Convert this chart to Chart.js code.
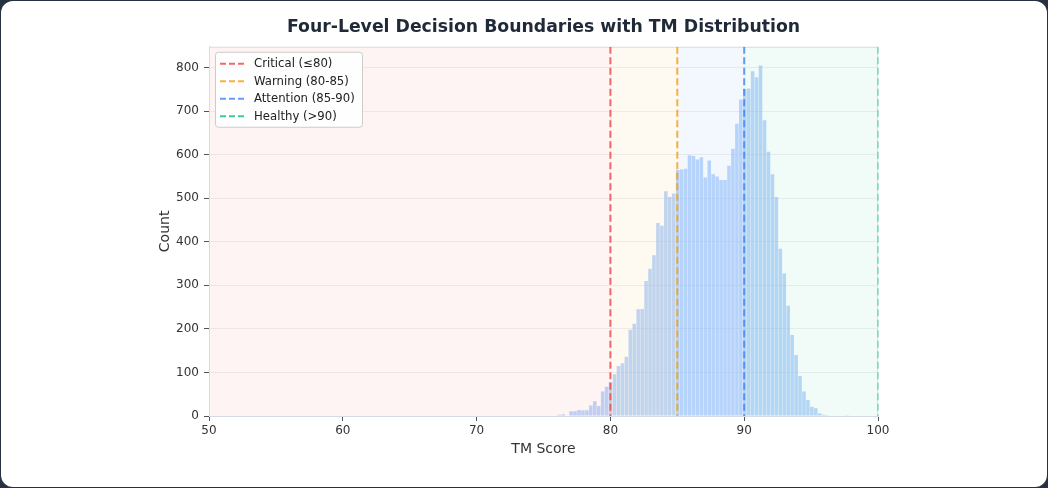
<!DOCTYPE html>
<html>
<head>
<meta charset="utf-8">
<script src="https://cdn.jsdelivr.net/npm/chart.js@4.4.1/dist/chart.umd.min.js"></script>
<style>
  html, body { margin: 0; padding: 0; background: #263142; }
  #c { display: block; }
</style>
</head>
<body>
<canvas id="c" width="1048" height="488"></canvas>
<script>
// ---- data ----
const titleText = 'Four-Level Decision Boundaries with TM Distribution';
const xTitle = 'TM Score';
const yTitle = 'Count';
const binCenters = [
  76.178, 76.473, 76.768, 77.063, 77.358, 77.653, 77.948, 78.243, 78.538, 78.833,
  79.128, 79.423, 79.718, 80.013, 80.308, 80.603, 80.898, 81.193, 81.488, 81.783,
  82.078, 82.373, 82.668, 82.963, 83.258, 83.553, 83.848, 84.143, 84.438, 84.733,
  85.028, 85.323, 85.618, 85.913, 86.208, 86.503, 86.798, 87.093, 87.388, 87.683,
  87.978, 88.273, 88.568, 88.863, 89.158, 89.453, 89.748, 90.043, 90.338, 90.633,
  90.928, 91.223, 91.518, 91.813, 92.108, 92.403, 92.698, 92.993, 93.288, 93.583,
  93.878, 94.173, 94.468, 94.763, 95.058, 95.353, 95.648, 95.943, 96.238, 96.533,
  96.828, 97.123, 97.418, 97.713, 98.008
];
const counts = [
  3, 4, 0, 11, 11, 14, 13, 13, 24, 34,
  23, 56, 67, 78, 96, 115, 121, 136, 198, 212,
  245, 246, 310, 338, 369, 443, 437, 516, 503, 511,
  565, 566, 568, 599, 597, 589, 594, 548, 587, 555,
  550, 542, 542, 575, 614, 671, 727, 751, 752, 792,
  778, 805, 679, 607, 555, 503, 384, 327, 253, 186,
  140, 92, 56, 37, 21, 18, 6, 3, 2, 1,
  0, 0, 0, 2, 1
];
const boundaries = [80, 85, 90, 100];
const boundaryLabels = ['Critical (≤80)', 'Warning (80-85)', 'Attention (85-90)', 'Healthy (>90)'];
const boundaryColors = ['rgba(239,68,68,0.8)', 'rgba(245,158,11,0.8)', 'rgba(59,130,246,0.8)', 'rgba(16,185,129,0.8)'];
const zoneEdges = [50, 80, 85, 90, 100];
const zoneColors = ['rgba(239,68,68,0.06)', 'rgba(245,158,11,0.06)', 'rgba(59,130,246,0.06)', 'rgba(16,185,129,0.06)'];
const xRange = [50, 100];
const yRange = [0, 848];
const xStep = 10;
const yStep = 100;

Chart.defaults.font.family = "'DejaVu Sans', sans-serif";

const bgPlugin = {
  id: 'bg',
  beforeDraw(chart) {
    const ctx = chart.ctx;
    ctx.save();
    ctx.fillStyle = '#263142';
    ctx.fillRect(0, 0, chart.width, chart.height);
    ctx.fillStyle = '#ffffff';
    ctx.beginPath();
    ctx.roundRect(1, 1, chart.width - 2, chart.height - 2, 12);
    ctx.fill();
    ctx.restore();
  }
};

const zonePlugin = {
  id: 'zones',
  afterDatasetsDraw(chart) {
    const {ctx, chartArea: a, scales: {x}} = chart;
    ctx.save();
    for (let i = 0; i < zoneColors.length; i++) {
      const x0 = x.getPixelForValue(zoneEdges[i]);
      const x1 = x.getPixelForValue(zoneEdges[i + 1]);
      ctx.fillStyle = zoneColors[i];
      ctx.fillRect(x0, a.top, x1 - x0, a.bottom - a.top);
    }
    ctx.restore();
  }
};

const overlayPlugin = {
  id: 'overlay',
  afterDraw(chart) {
    const {ctx, chartArea: a, scales: {x}} = chart;
    ctx.save();
    // frame
    ctx.strokeStyle = '#d6dce6';
    ctx.lineWidth = 1;
    ctx.strokeRect(a.left + 0.5, a.top + 0.5, a.right - a.left - 1, a.bottom - a.top);
    // boundary lines
    ctx.beginPath();
    ctx.rect(a.left, a.top, a.right - a.left + 1, a.bottom - a.top);
    ctx.clip();
    ctx.lineWidth = 2;
    ctx.setLineDash([7, 3.5]);
    boundaries.forEach((b, i) => {
      const px = x.getPixelForValue(b);
      ctx.strokeStyle = boundaryColors[i];
      ctx.globalAlpha = (b === xRange[1]) ? 0.45 : 1;
      ctx.beginPath();
      ctx.moveTo(px, a.top);
      ctx.lineTo(px, a.bottom);
      ctx.stroke();
    });
    ctx.restore();
    // legend
    ctx.save();
    const lx = a.left + 6, ly = a.top + 5, lw = 147, lh = 75;
    ctx.fillStyle = 'rgba(255,255,255,0.85)';
    ctx.strokeStyle = '#cccccc';
    ctx.lineWidth = 1;
    ctx.beginPath();
    ctx.roundRect(lx + 0.5, ly + 0.5, lw, lh, 3);
    ctx.fill();
    ctx.stroke();
    ctx.font = "11.7px 'DejaVu Sans'";
    ctx.textBaseline = 'middle';
    ctx.textAlign = 'left';
    boundaryLabels.forEach((lab, i) => {
      const yy = ly + 12 + i * 17.5;
      ctx.strokeStyle = boundaryColors[i];
      ctx.lineWidth = 2;
      ctx.setLineDash([6, 3]);
      ctx.beginPath();
      ctx.moveTo(lx + 5, yy);
      ctx.lineTo(lx + 29, yy);
      ctx.stroke();
      ctx.setLineDash([]);
      ctx.fillStyle = '#222222';
      ctx.fillText(lab, lx + 39, yy + 0.5);
    });
    ctx.restore();
  }
};

new Chart(document.getElementById('c'), {
  type: 'bar',
  data: {
    datasets: [{
      data: binCenters.map((v, i) => ({x: v, y: counts[i]})),
      backgroundColor: 'rgba(147,190,250,0.6)',
      borderWidth: 0,
      barPercentage: 0.9,
      categoryPercentage: 1.0
    }]
  },
  options: {
    responsive: false,
    animation: false,
    layout: { padding: { left: 149, right: 170, top: 0, bottom: 22 } },
    plugins: {
      legend: { display: false },
      tooltip: { enabled: false },
      title: {
        display: true,
        text: titleText,
        fullSize: false,
        color: '#1f2937',
        font: { size: 17.3, weight: 'bold' },
        padding: { top: 17, bottom: 9 }
      }
    },
    scales: {
      x: {
        type: 'linear',
        min: xRange[0],
        max: xRange[1],
        offset: false,
        ticks: { stepSize: xStep, color: '#333333', font: { size: 12 }, padding: 3, maxRotation: 0 },
        grid: { drawOnChartArea: false, offset: false, tickLength: 5, tickColor: '#555555' },
        border: { color: '#d6dce6' },
        title: { display: true, text: xTitle, color: '#333333', font: { size: 14 }, padding: { top: 0, bottom: 8.6 } },
        afterFit(s) { s.height = 50; }
      },
      y: {
        min: yRange[0],
        max: yRange[1],
        z: 1,
        ticks: { stepSize: yStep, color: '#333333', font: { size: 12 }, padding: 5 },
        afterBuildTicks(s) { s.ticks = s.ticks.filter(t => t.value % yStep === 0); },
        grid: { color: 'rgba(226,230,236,0.6)', tickLength: 5, tickColor: '#555555' },
        border: { color: '#d6dce6' },
        title: { display: true, text: yTitle, color: '#333333', font: { size: 14 }, padding: { top: 7.6, bottom: 0 } },
        afterFit(s) { s.width = 60; }
      }
    }
  },
  plugins: [bgPlugin, zonePlugin, overlayPlugin]
});
</script>
</body>
</html>
